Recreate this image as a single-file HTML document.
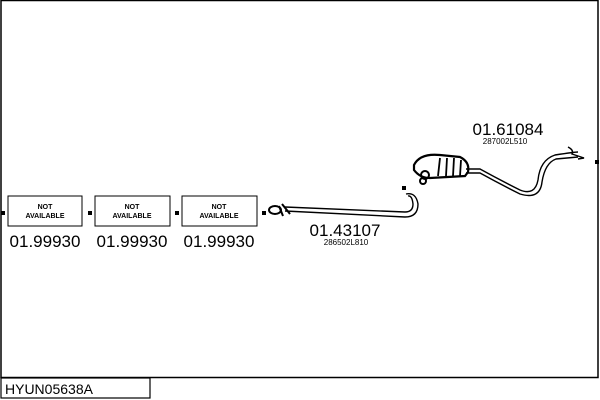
<!DOCTYPE html>
<html><head><style>
body{margin:0;width:600px;height:400px;background:#fff;overflow:hidden}
svg{display:block}
</style></head><body>
<svg width="600" height="400" viewBox="0 0 600 400" font-family="Liberation Sans, sans-serif">
<rect x="1" y="0.5" width="597" height="377" fill="none" stroke="#000" stroke-width="1.5"/>
<rect x="1" y="378" width="149" height="20" fill="none" stroke="#000" stroke-width="1.2"/>
<text x="5" y="394" font-size="14">HYUN05638A</text>
<g fill="none" stroke="#000" stroke-width="1">
<rect x="8" y="196" width="74" height="30"/>
<rect x="95" y="196" width="75" height="30"/>
<rect x="182" y="196" width="75" height="30"/>
</g>
<g fill="#000">
<rect x="1" y="211" width="4" height="4"/>
<rect x="88" y="211" width="4" height="4"/>
<rect x="175" y="211" width="4" height="4"/>
<rect x="262" y="211" width="4" height="4"/>
<rect x="402" y="186" width="4" height="4"/>
<rect x="595" y="160" width="4" height="4"/>
</g>
<g font-size="7" font-weight="bold" text-anchor="middle">
<text x="45" y="209">NOT</text><text x="45" y="218">AVAILABLE</text>
<text x="132" y="209">NOT</text><text x="132" y="218">AVAILABLE</text>
<text x="219" y="209">NOT</text><text x="219" y="218">AVAILABLE</text>
</g>
<g font-size="17" text-anchor="middle">
<text x="45" y="247">01.99930</text>
<text x="132" y="247">01.99930</text>
<text x="219" y="247">01.99930</text>
<text x="345" y="236">01.43107</text>
<text x="508" y="135">01.61084</text>
</g>
<text x="346" y="245" font-size="8" text-anchor="middle">286502L810</text>
<text x="505" y="144" font-size="8" text-anchor="middle">287002L510</text>
<g fill="none" stroke="#000" stroke-width="1.4">
<path d="M285 207 L405 212 Q413 212 413 204 Q412 195 408 196"/>
<path d="M285 211 L405 217 Q418 217 418 204 Q416 192 406 194"/>
<ellipse cx="275" cy="210" rx="6" ry="4" stroke-width="2"/>
<path d="M282 204 L290 214 M279 206 L283 216" stroke-width="2"/>
<path d="M414 165 Q420 153 440 155 L460 157 Q470 162 468 172 L465 176 L430 178 Q420 178 414 170 Z" stroke-width="2.2"/>
<path d="M440 158 L438 176 M447 158 L446 176 M454 158 L453 176 M461 160 L460 176" stroke-width="1.8"/>
<circle cx="425" cy="175" r="4" stroke-width="2"/><circle cx="423" cy="181" r="3" stroke-width="2"/>
<path d="M466 169 L480 169 Q500 180 520 190 Q535 196 538 180 Q540 160 555 155 Q575 152 578 152"/>
<path d="M466 173 L480 173 Q500 184 520 194 Q540 200 542 182 Q545 163 556 159 L578 157"/>
<path d="M568 147 Q574 150 572 154 L584 158 L578 159"/>
</g>
</svg>
</body></html>
